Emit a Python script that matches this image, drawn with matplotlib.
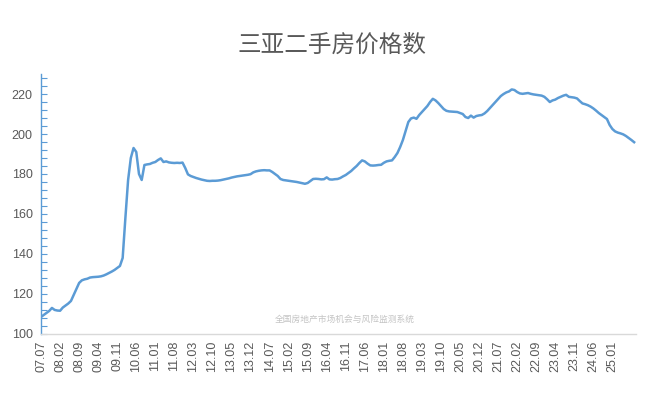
import matplotlib
matplotlib.use("Agg")
import matplotlib.pyplot as plt
from matplotlib.ticker import MultipleLocator

plt.rcParams['font.family'] = ['Liberation Sans', 'Noto Sans CJK SC', 'DejaVu Sans']

# monthly index, 2007.07 - 2025.09
start_year, start_month = 2007, 7
values = [
    108.5, 109.5, 110.5, 111.5, 113.0, 112.0,                                # 2007 H2
    111.7, 111.6, 113.2, 114.2, 115.2, 116.5, 119.5, 122.5, 125.5, 126.8, 127.3, 127.6,  # 2008
    128.2, 128.4, 128.5, 128.6, 128.8, 129.2, 129.8, 130.5, 131.2, 132.0, 133.0, 134.0,  # 2009
    138.0, 158.0, 177.0, 188.0, 193.0, 191.0, 180.0, 177.0, 184.5, 184.8, 185.0, 185.6,  # 2010
    186.0, 187.0, 187.8, 186.0, 186.3, 185.8, 185.6, 185.5, 185.6, 185.5, 185.7, 183.0,  # 2011
    179.8, 179.0, 178.5, 178.0, 177.6, 177.2, 176.9, 176.6, 176.5, 176.6, 176.6, 176.7,  # 2012
    176.9, 177.2, 177.5, 177.8, 178.2, 178.5, 178.8, 179.0, 179.2, 179.4, 179.6, 179.9,  # 2013
    180.8, 181.3, 181.6, 181.8, 181.9, 181.8, 181.8, 181.0, 180.0, 179.0, 177.5, 177.0,  # 2014
    176.8, 176.6, 176.4, 176.2, 176.0, 175.7, 175.4, 175.1, 175.5, 176.5, 177.5, 177.6,  # 2015
    177.5, 177.3, 177.4, 178.3, 177.3, 177.2, 177.4, 177.5, 178.0, 178.8, 179.5, 180.5,  # 2016
    181.5, 182.8, 184.0, 185.5, 186.8, 186.3, 185.2, 184.3, 184.2, 184.3, 184.5, 184.6,  # 2017
    185.6, 186.3, 186.6, 186.8, 188.5, 190.5, 193.5, 197.0, 201.5, 206.0, 207.8, 208.2,  # 2018
    207.6, 209.5, 211.0, 212.5, 214.0, 216.0, 217.6, 216.8, 215.5, 214.0, 212.5, 211.6,  # 2019
    211.3, 211.2, 211.1, 211.0, 210.5, 210.0, 208.5, 208.0, 209.2, 208.2, 209.0, 209.3,  # 2020
    209.5, 210.3, 211.5, 213.0, 214.5, 216.0, 217.5, 219.0, 220.0, 220.8, 221.3, 222.3,  # 2021
    222.0, 221.0, 220.3, 220.1, 220.3, 220.5, 220.1, 219.8, 219.6, 219.4, 219.2, 218.6,  # 2022
    217.4, 216.0, 216.8, 217.2, 218.0, 218.6, 219.2, 219.6, 218.6, 218.4, 218.2, 217.8,  # 2023
    216.5, 215.3, 214.9, 214.4, 213.7, 212.8, 211.7, 210.5, 209.5, 208.5, 207.5, 204.5,  # 2024
    202.5, 201.3, 200.7, 200.3, 199.8, 199.0, 198.0, 197.0, 195.9,                      # 2025
]

months = []
for k in range(len(values)):
    m = start_month - 1 + k
    months.append("%02d.%02d" % ((start_year + m // 12) % 100, m % 12 + 1))

title = "三亚二手房价格数"
watermark = "全国房地产市场机会与风险监测系统"

fig = plt.figure(figsize=(6.62, 3.98), dpi=100)
ax = fig.add_axes([0.062, 0.161, 0.899, 0.653])

x = list(range(len(values)))
ax.plot(x, values, color="#5b9bd5", linewidth=1.8, solid_joinstyle="round")

ax.set_xlim(0, 218.75)
ax.set_ylim(100, 230)
ax.yaxis.set_minor_locator(MultipleLocator(4))
ax.set_yticks([100, 120, 140, 160, 180, 200, 220])

# a label every 7 months, last one 25.01
tick_pos = [i for i in x[::7] if i <= 210]
ax.set_xticks(tick_pos)
ax.set_xticklabels([months[i] for i in tick_pos], rotation=90)

for s in ["top", "right"]:
    ax.spines[s].set_visible(False)
ax.spines["left"].set_color("#5b9bd5")
ax.spines["left"].set_linewidth(1.0)
ax.spines["bottom"].set_color("#d9d9d9")
ax.spines["bottom"].set_linewidth(1.0)

ax.tick_params(axis="y", which="both", direction="in", color="#5b9bd5",
               length=4, width=0.8, labelsize=9, labelcolor="#595959", pad=6)
ax.tick_params(axis="x", length=0, labelsize=9, labelcolor="#595959", pad=5)

fig.text(0.502, 0.887, title, ha="center", va="center", fontsize=17,
         color="#595959", weight="medium", family=["Noto Sans CJK SC", "DejaVu Sans"])
ax.text(0.51, 0.055, watermark, transform=ax.transAxes, ha="center", va="center",
        fontsize=6.3, color="#c4c4c4", family=["Noto Sans CJK SC", "DejaVu Sans"])

fig.savefig("out.png", dpi=100)
